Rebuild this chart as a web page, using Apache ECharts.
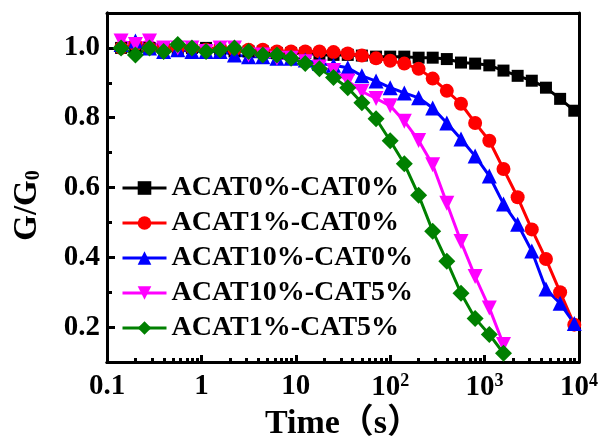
<!DOCTYPE html>
<html>
<head>
<meta charset="utf-8">
<script src="https://cdn.jsdelivr.net/npm/echarts@6/dist/echarts.min.js"></script>
<style>
  html, body { margin: 0; padding: 0; background: #fff; }
  #chart { width: 606px; height: 436px; }
</style>
</head>
<body>
<div id="chart"></div>
<script>
// 时间 (s)
var times = [0.141, 0.2, 0.282, 0.398, 0.562, 0.794, 1.12, 1.58, 2.24, 3.16, 4.47,
  6.31, 8.91, 12.6, 17.8, 25.1, 35.5, 50.1, 70.8, 100, 141, 200, 282, 398, 562,
  794, 1122, 1585, 2239, 3162, 4467, 6310, 8913];

var names = ['ACAT0%-CAT0%', 'ACAT1%-CAT0%', 'ACAT10%-CAT0%', 'ACAT10%-CAT5%', 'ACAT1%-CAT5%'];

var acat0cat0 = [1.0, 1.0, 1.0, 1.0, 0.995, 1.0, 1.0, 0.995, 0.99, 0.99, 0.99,
  0.985, 0.985, 0.985, 0.98, 0.98, 0.98, 0.978, 0.975, 0.975, 0.975, 0.972, 0.972,
  0.968, 0.958, 0.955, 0.95, 0.935, 0.92, 0.906, 0.886, 0.854, 0.82];
var acat1cat0 = [1.0, 1.01, 1.0, 1.0, 1.0, 1.0, 0.995, 1.0, 0.995, 0.995, 0.995,
  0.99, 0.99, 0.99, 0.99, 0.988, 0.984, 0.978, 0.97, 0.963, 0.955, 0.94, 0.912,
  0.877, 0.84, 0.785, 0.734, 0.653, 0.572, 0.48, 0.395, 0.30, 0.207];
var acat10cat0 = [1.01, 1.02, 1.0, 0.99, 0.995, 0.99, 0.99, 0.99, 0.98, 0.975, 0.975,
  0.97, 0.97, 0.965, 0.955, 0.95, 0.943, 0.92, 0.905, 0.886, 0.871, 0.857, 0.828,
  0.785, 0.739, 0.69, 0.633, 0.553, 0.495, 0.418, 0.309, 0.268, 0.21];
var acat10cat5 = [1.02, 1.01, 1.02, 1.0, 1.0, 1.0, 0.99, 1.0, 1.0, 0.98, 0.98,
  0.97, 0.97, 0.96, 0.945, 0.935, 0.905, 0.875, 0.855, 0.834, 0.79, 0.735, 0.665,
  0.555, 0.445, 0.345, 0.255, 0.15];
var acat1cat5 = [1.0, 0.98, 1.0, 0.99, 1.01, 1.0, 0.99, 0.995, 1.0, 0.99, 0.98,
  0.98, 0.97, 0.955, 0.94, 0.915, 0.886, 0.843, 0.797, 0.734, 0.668, 0.578, 0.475,
  0.389, 0.297, 0.225, 0.179, 0.125];

// 坐标刻度
var xTickLabels = ['0.1', '1', '10', '10{sup|2}', '10{sup|3}', '10{sup|4}'];
var yTicks = [0.2, 0.4, 0.6, 0.8, 1.0];
var yMinorTicks = [0.3, 0.5, 0.7, 0.9];

var font = "'Liberation Serif', 'Noto Sans CJK SC', serif";

function pairs(vals) {
  return vals.map(function (v, i) { return [times[i], v]; });
}

// 对数轴小刻度 (2..9 每个十进位)
var xMinor = [];
for (var d = -1; d < 4; d++) {
  for (var k = 2; k <= 9; k++) xMinor.push(d + Math.log10(k));
}

var axisLineStyle = { color: '#000', width: 3 };
var tickLine = { color: '#000', width: 3 };

// 边框用的空轴
function frameAxis(pos, min, max) {
  return {
    type: 'value', show: true, position: pos, min: min, max: max,
    axisLine: { show: true, onZero: false, lineStyle: axisLineStyle },
    axisTick: { show: false }, axisLabel: { show: false }, splitLine: { show: false }
  };
}

var myChart = echarts.init(document.getElementById('chart'));

var option = {
  animation: false,
  backgroundColor: '#fff',
  grid: {
    left: 107, right: 27, top: 13, bottom: 74,
    outerBoundsMode: 'none'
  },
  legend: {
    orient: 'vertical',
    left: 121,
    top: 174,
    padding: 0,
    itemWidth: 44,
    itemHeight: 17,
    itemGap: 7,
    data: names,
    lineStyle: { width: 3 },
    textStyle: { fontFamily: font, fontWeight: 'bold', fontSize: 28, color: '#000', lineHeight: 28 }
  },
  xAxis: [{
    type: 'log',
    logBase: 10,
    min: 0.1,
    max: 10000,
    position: 'bottom',
    name: 'Time（s）',
    nameLocation: 'middle',
    nameGap: 42,
    nameTextStyle: { fontFamily: font, fontWeight: 'bold', fontSize: 34, color: '#000' },
    axisLine: { show: true, onZero: false, lineStyle: axisLineStyle },
    axisTick: { show: true, inside: true, length: 7, lineStyle: tickLine },
    splitLine: { show: false },
    axisLabel: {
      margin: 10,
      color: '#000',
      fontFamily: font,
      fontWeight: 'bold',
      fontSize: 29,
      formatter: function (v) {
        return xTickLabels[Math.round(Math.log10(v)) + 1];
      },
      rich: {
        sup: { fontFamily: font, fontWeight: 'bold', fontSize: 18, color: '#000', padding: [0, 0, 14, 0] }
      }
    }
  }, {
    type: 'value',
    show: true,
    min: -1,
    max: 4,
    position: 'bottom',
    axisLine: { show: true, onZero: false, lineStyle: axisLineStyle },
    axisLabel: { show: false },
    splitLine: { show: false },
    axisTick: { show: true, inside: true, length: 4, customValues: xMinor, lineStyle: tickLine }
  }, frameAxis('top', -1, 4)],
  yAxis: [{
    type: 'value',
    min: 0.1,
    max: 1.1,
    position: 'left',
    name: 'G/G{sub|0}',
    nameLocation: 'middle',
    nameRotate: 90,
    nameGap: 63,
    nameTextStyle: {
      fontFamily: font, fontWeight: 'bold', fontSize: 33, color: '#000',
      padding: [0, 36, 0, 0],
      rich: {
        sub: { fontFamily: font, fontWeight: 'bold', fontSize: 20, color: '#000', padding: [14, 0, 0, 0] }
      }
    },
    axisLine: { show: true, onZero: false, lineStyle: axisLineStyle },
    axisTick: { show: true, inside: true, length: 8, customValues: yTicks, lineStyle: tickLine },
    splitLine: { show: false },
    axisLabel: {
      margin: 7,
      color: '#000',
      fontFamily: font,
      fontWeight: 'bold',
      fontSize: 29,
      customValues: yTicks,
      formatter: function (v) { return v.toFixed(1); }
    }
  }, {
    type: 'value',
    show: true,
    min: 0.1,
    max: 1.1,
    position: 'left',
    axisLine: { show: true, onZero: false, lineStyle: axisLineStyle },
    axisLabel: { show: false },
    splitLine: { show: false },
    axisTick: { show: true, inside: true, length: 5, customValues: yMinorTicks, lineStyle: tickLine }
  }, frameAxis('right', 0.1, 1.1)],
  series: [
    { name: names[0], type: 'line', data: pairs(acat0cat0), color: '#000000',
      symbol: 'rect', symbolSize: 12, lineStyle: { width: 3 } },
    { name: names[1], type: 'line', data: pairs(acat1cat0), color: '#ff0000',
      symbol: 'circle', symbolSize: 14, lineStyle: { width: 3 } },
    { name: names[2], type: 'line', data: pairs(acat10cat0), color: '#0000ff',
      symbol: 'triangle', symbolSize: 15, lineStyle: { width: 3 } },
    { name: names[3], type: 'line', data: pairs(acat10cat5), color: '#ff00ff',
      symbol: 'triangle', symbolRotate: 180, symbolSize: 15, lineStyle: { width: 3 } },
    { name: names[4], type: 'line', data: pairs(acat1cat5), color: '#008000',
      symbol: 'diamond', symbolSize: 17, lineStyle: { width: 3 } }
  ]
};

myChart.setOption(option);
</script>
</body>
</html>
